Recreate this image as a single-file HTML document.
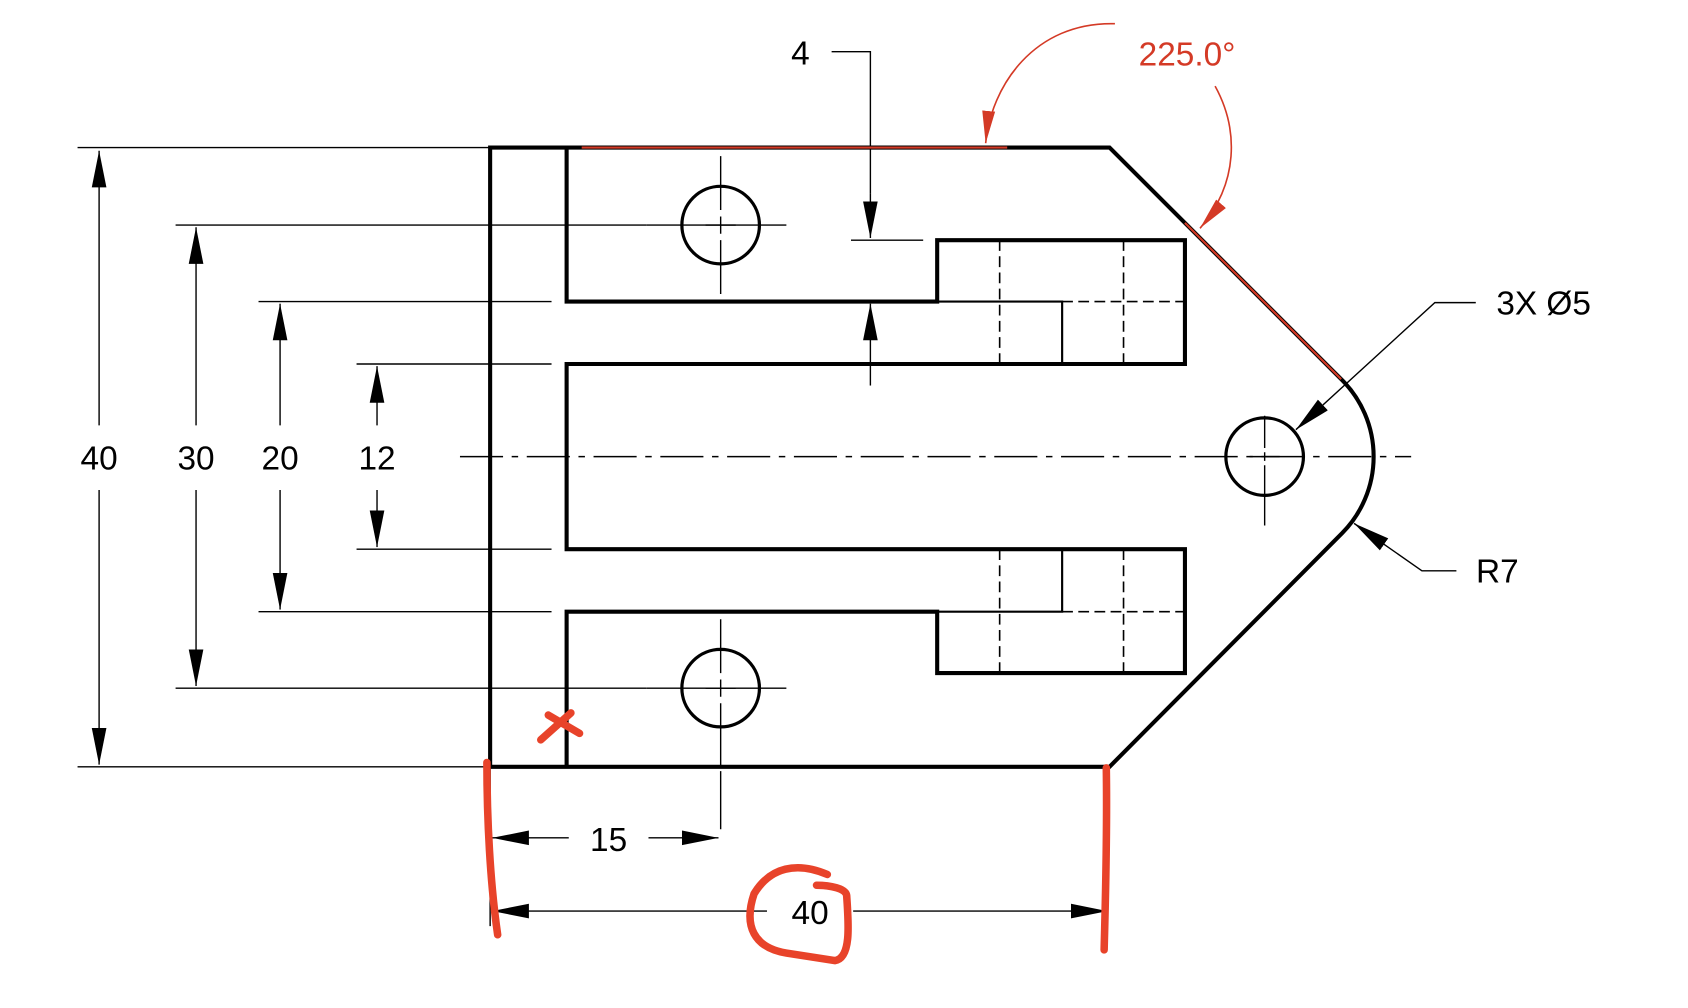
<!DOCTYPE html>
<html><head><meta charset="utf-8"><style>html,body{margin:0;padding:0;background:#fff}svg{display:block}</style></head>
<body>
<svg width="1688" height="1008" viewBox="0 0 1567 936" preserveAspectRatio="none" xmlns="http://www.w3.org/2000/svg" font-family="Liberation Sans, sans-serif">
<defs>
<marker id="a" viewBox="0 0 20 8" refX="20" refY="4" markerWidth="34" markerHeight="14" markerUnits="userSpaceOnUse" orient="auto"><path d="M0,0 L20,4 L0,8 Z" fill="#000"/></marker>
<marker id="r" viewBox="0 0 20 8" refX="20" refY="4" markerWidth="30" markerHeight="14" markerUnits="userSpaceOnUse" orient="auto"><path d="M0,0 L20,4 L0,8 Z" fill="#d43a26"/></marker>
</defs>
<g stroke="#000" fill="none">
<path d="M455,137 H1030 L1246,353 A101,101 0 0 1 1246,495 L1030,712 H455 Z" stroke-width="3.8"/>
<path d="M526,137 V280 H870 V223 H1100 V338 H526 V510 H1100 V625 H870 V568 H526 V712" stroke-width="3.8"/>
<path d="M870,280 H986 V338 M870,568 H986 V510" stroke-width="2"/>
<path d="M928,223 V338 M1043,223 V338 M928,510 V625 M1043,510 V625 M986,280 H1100 M986,568 H1100" stroke-width="1.5" stroke-dasharray="10,5"/>
<circle cx="669" cy="209" r="36" stroke-width="3"/>
<circle cx="669" cy="639" r="36" stroke-width="3"/>
<circle cx="1174" cy="424" r="36" stroke-width="3"/>
<g stroke-width="1.3">
<path d="M669,145 V195 M669,201 V217 M669,223 V273 M655,209 H683"/>
<path d="M669,575 V625 M669,631 V647 M669,653 V712 M655,639 H683 M669,716 V770"/>
<path d="M1174,386 V416 M1174,420 V428 M1174,432 V488 M1160,424 H1188"/>
<path d="M600,209 H730 M600,639 H730"/>
<path d="M427,424 H1310" stroke-dasharray="40,8,6,8"/>
<path d="M72,137 H455 M72,712 H455 M163,209 H600 M163,639 H600 M240,280 H512 M240,568 H512 M331,338 H512 M331,510 H512"/>
<path d="M790,223 H857 M772,48 H808 V180"/>
<path d="M92,395 V140" marker-end="url(#a)"/><path d="M92,455 V710" marker-end="url(#a)"/>
<path d="M182,395 V211" marker-end="url(#a)"/><path d="M182,455 V637" marker-end="url(#a)"/>
<path d="M260,395 V282" marker-end="url(#a)"/><path d="M260,455 V566" marker-end="url(#a)"/>
<path d="M350,395 V340" marker-end="url(#a)"/><path d="M350,455 V508" marker-end="url(#a)"/>
<path d="M808,180 V221" marker-end="url(#a)"/><path d="M808,358 V282" marker-end="url(#a)"/>
<path d="M528,778 H457" marker-end="url(#a)"/><path d="M602,778 H667" marker-end="url(#a)"/>
<path d="M712,846 H457" marker-end="url(#a)"/><path d="M792,846 H1028" marker-end="url(#a)"/>
<path d="M1370,281 H1332 L1203,399" marker-end="url(#a)"/>
<path d="M1352,530 H1320 L1257,486" marker-end="url(#a)"/>
<path d="M455,712 V860"/>
</g>
</g>
<g font-size="31" fill="#000" text-anchor="middle">
<text x="92" y="436">40</text><text x="182" y="436">30</text><text x="260" y="436">20</text><text x="350" y="436">12</text>
<text x="743" y="60">4</text><text x="565" y="790">15</text><text x="752" y="858">40</text>
<text x="1433" y="292">3X Ø5</text><text x="1390" y="541">R7</text>
<text x="1102" y="61" fill="#d43a26">225.0°</text>
</g>
<g stroke="#d43a26" fill="none" stroke-width="2">
<path d="M540,137 H935 M1100,207 L1245,352"/>
<path d="M1035,22 C960,20 920,80 915,133" marker-end="url(#r)" stroke-width="1.5"/>
<path d="M1128,80 C1150,120 1150,170 1114,212" marker-end="url(#r)" stroke-width="1.5"/>
</g>
<g stroke="#e8432a" fill="none" stroke-width="7" stroke-linecap="round">
<path d="M502,687 L530,662 M509,664 L538,681"/>
<path d="M452,708 C452,760 455,820 462,868"/>
<path d="M1027,713 C1028,780 1026,840 1025,882"/>
<path d="M768,812 C740,800 715,805 700,830 C690,860 700,880 730,885 L775,892 C790,890 788,860 786,832 C786,825 770,822 758,822"/>
</g>
</svg>
</body></html>
